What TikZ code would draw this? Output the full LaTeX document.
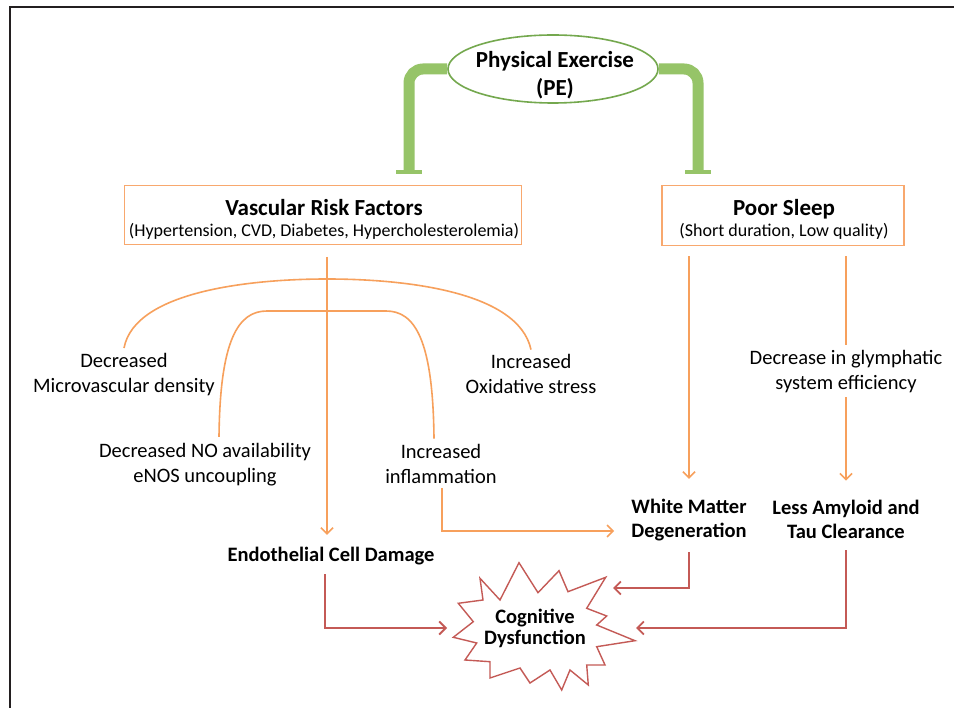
\documentclass[tikz,border=0pt]{standalone}
\usepackage{fontspec}
\setmainfont{Carlito}
\usetikzlibrary{arrows.meta,shapes.geometric,backgrounds,calc}
\definecolor{lineorange}{RGB}{247,160,92}
\definecolor{boxorange}{RGB}{248,168,110}
\definecolor{redline}{RGB}{196,90,86}
\definecolor{barGreen}{RGB}{150,196,104}
\definecolor{ringGreen}{RGB}{116,168,78}
\definecolor{frameBlack}{RGB}{35,31,32}
\begin{document}
\begin{tikzpicture}[x=1pt,y=-1pt,
  lbl/.style={align=center, inner sep=0pt, font=\fontsize{20.5}{25}\selectfont},
  blbl/.style={align=center, inner sep=0pt, font=\bfseries\fontsize{20.5}{24}\selectfont},
  ttl/.style={inner sep=0pt, font=\bfseries\fontsize{23}{28}\selectfont},
  subttl/.style={inner sep=0pt, font=\fontsize{18}{22}\selectfont},
  obox/.style={draw=boxorange, line width=1.9pt, rectangle, inner sep=0pt},
  oline/.style={draw=lineorange, line width=1.6pt},
  oarrow/.style={oline, -{Straight Barb[length=6pt,width=12pt,line width=1.6pt]}},
  rarrow/.style={draw=redline, line width=1.8pt, -{Straight Barb[length=6.5pt,width=13pt,line width=1.8pt]}},
  gbar/.style={draw=barGreen, line width=11pt, rounded corners=14pt},
  tbar/.style={draw=barGreen, line width=4pt},
  starline/.style={draw=redline, line width=1.4pt, fill=white, line join=miter},
]
\useasboundingbox (0,0) rectangle (954,708);
% frame
\draw[frameBlack, line width=2pt] (10,708) -- (10,7) -- (954,7);

% Physical exercise
\node[draw=ringGreen, line width=1.6pt, fill=white, ellipse, minimum width=210pt,
      minimum height=68pt, inner sep=0pt] (pe) at (553,69) {};
\node[align=center, inner sep=0pt, font=\bfseries\fontsize{23}{28}\selectfont] (peT) at (555,75) {Physical Exercise\\(PE)};

% boxes
\node[obox, minimum width=397pt, minimum height=59pt] (vrf) at (323,215) {};
\node[ttl] (vrfT) at (324,208) {Vascular Risk Factors};
\node[subttl] (vrfS) at (324,231) {(Hypertension, CVD, Diabetes, Hypercholesterolemia)};
\node[obox, minimum width=242pt, minimum height=60pt] (ps) at (783,215.5) {};
\node[ttl] (psT) at (784,209) {Poor Sleep};
\node[subttl] (psS) at (784,231) {(Short duration, Low quality)};

% inhibition bars
\coordinate (tL) at (409,170);
\coordinate (tR) at (698,170);
\begin{scope}[on background layer]
\fill[white] (0,0) rectangle (954,708);
\draw[gbar] (pe.west) -| (tL);
\draw[gbar] (pe.east) -| (tR);
\end{scope}
\draw[tbar] ([xshift=-13pt,yshift=-2pt]tL) -- ([xshift=13pt,yshift=-2pt]tL);
\draw[tbar] ([xshift=-13pt,yshift=-2pt]tR) -- ([xshift=13pt,yshift=-2pt]tR);

% labels
\node[lbl] (mvd) at (124,374.5) {Decreased\\Microvascular density};
\node[lbl] (no) at (205,464.5) {Decreased NO availability\\eNOS uncoupling};
\node[lbl] (ox) at (531,373.5) {Increased\\Oxidative stress};
\node[lbl] (infl) at (441,463.5) {Increased\\inflammation};
\node[lbl] (gly) at (846,372) {Decrease in glymphatic\\system efficiency};
\node[blbl] (ecd) at (331,556) {Endothelial Cell Damage};
\node[blbl] (wmd) at (689,520) {White Matter\\Degeneration};
\node[blbl] (lat) at (846,519) {Less Amyloid and\\Tau Clearance};

% star
\draw[starline] (480,578.3) -- (500,600) -- (519,562.7) -- (538,592.7) -- (559,570.7)
  -- (568,591.7) -- (605.7,577.3) -- (586.7,608.3) -- (606.7,616) -- (596.7,625)
  -- (635,640.7) -- (596.7,646.7) -- (605,665) -- (586.7,665) -- (588.3,685)
  -- (570,670) -- (561.7,690) -- (550,670) -- (530,683) -- (520,668) -- (490,678)
  -- (490,661.7) -- (465,660) -- (476.7,643) -- (453.3,637.3) -- (473.3,621.7)
  -- (458.3,603.3) -- (483,600) -- cycle;
\node[blbl, font=\bfseries\fontsize{20.5}{21.5}\selectfont] (cd) at (535,628.5) {Cognitive\\Dysfunction};
\coordinate (cdW) at (447,628);
\coordinate (cdNE) at (613,588);
\coordinate (cdE) at (636,628);

% orange connectors
\draw[oarrow] ([xshift=4pt,yshift=-11.5pt]vrf.south) -- ([xshift=-4pt,yshift=12pt]ecd.north);
\draw[oline] ([yshift=5pt]mvd.north) .. controls (135,290) and (255,279) .. (327,279)
  .. controls (400,279) and (518,290) .. ([yshift=4pt]ox.north);
\draw[oline] ([xshift=14pt,yshift=6pt]no.north) .. controls (220,340) and (238,311) .. (267,311)
  -- (386,311) .. controls (415,311) and (433,340) .. ([xshift=-7pt,yshift=5pt]infl.north);
\draw[oarrow] ([xshift=1pt,yshift=-4.5pt]infl.south) |- ([xshift=-17pt,yshift=-11pt]wmd.west);
\draw[oarrow] ($(ps.south -| wmd.north)+(0,10)$) -- ($(wmd.north)+(0,-20)$);
\draw[oline] ($(ps.south -| gly.north)+(0,10)$) -- ($(gly.north)+(0,-6)$);
\draw[oarrow] ($(gly.south)+(0,4)$) -- ($(lat.north)+(0,-19)$);

% red connectors
\draw[rarrow] ($(ecd.south)+(-6,9)$) |- (cdW);
\draw[rarrow] ($(wmd.south)+(0,11)$) |- (cdNE);
\draw[rarrow] ($(lat.south)+(0,12)$) |- (cdE);
\end{tikzpicture}
\end{document}
